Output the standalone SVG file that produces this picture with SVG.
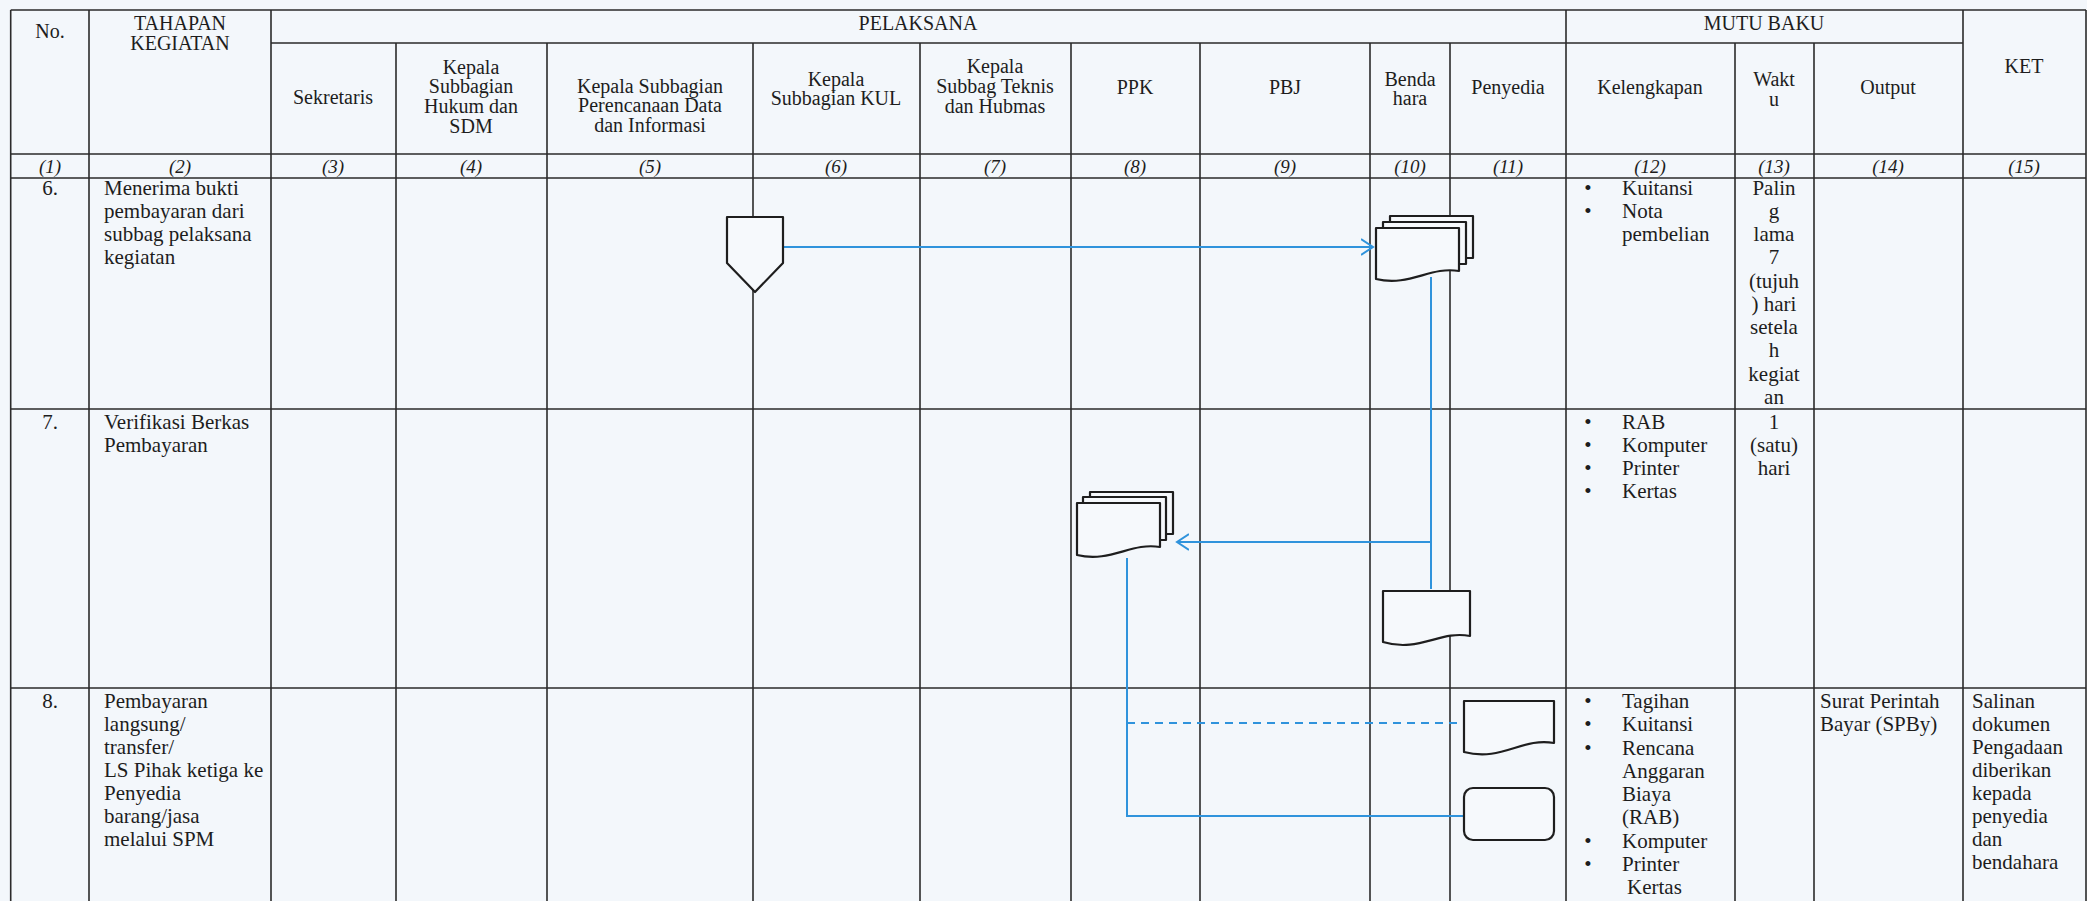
<svg xmlns="http://www.w3.org/2000/svg" width="2087" height="901" viewBox="0 0 2087 901">
<defs>
<style>
.grid{stroke:#2b2b2b;stroke-width:1.6;fill:none}
.shape{stroke:#1e1e1e;stroke-width:2.2;fill:#f6f9fc;stroke-linejoin:round}
.conn{stroke:#2f93dc;stroke-width:2;fill:none}
.dash{stroke-dasharray:8 6}
text{font-family:"Liberation Serif","Times New Roman",serif;fill:#1d1d1d}
.h{font-size:20px;text-anchor:middle}
.n{font-size:19px;font-style:italic;text-anchor:middle}
.b{font-size:21px}
.c{font-size:21px;text-anchor:middle}
</style>
<marker id="arr" markerUnits="userSpaceOnUse" markerWidth="16" markerHeight="20" refX="12" refY="9" orient="auto">
<path d="M0,1 L12,9 L0,17" fill="none" stroke="#2f93dc" stroke-width="2"/>
</marker>
</defs>
<rect x="0" y="0" width="2087" height="901" fill="#f3f7fb"/>

<g id="table-grid" class="grid">
<path d="M10.7,10 H2086 M271,43 H1963 M10.7,154 H2086 M10.7,178 H2086 M10.7,409 H2086 M10.7,688 H2086"/>
<path d="M10.7,10 V901 M89,10 V901 M271,10 V901 M1566,10 V901 M1963,10 V901 M2086,10 V901"/>
<path d="M396,43 V901 M547,43 V901 M753,43 V901 M920,43 V901 M1071,43 V901 M1200,43 V901 M1370,43 V901 M1450,43 V901 M1735,43 V901 M1814,43 V901"/>
</g>

<g id="header">
<text class="h" x="50" y="38">No.</text>
<text class="h" x="180" y="30">TAHAPAN</text>
<text class="h" x="180" y="50">KEGIATAN</text>
<text class="h" x="918" y="30">PELAKSANA</text>
<text class="h" x="1764" y="30">MUTU BAKU</text>
<text class="h" x="2024" y="73">KET</text>
<text class="h" x="333" y="104">Sekretaris</text>
<text class="h" x="471" y="74">Kepala</text>
<text class="h" x="471" y="93">Subbagian</text>
<text class="h" x="471" y="113">Hukum dan</text>
<text class="h" x="471" y="133">SDM</text>
<text class="h" x="650" y="93">Kepala Subbagian</text>
<text class="h" x="650" y="112">Perencanaan Data</text>
<text class="h" x="650" y="132">dan Informasi</text>
<text class="h" x="836" y="86">Kepala</text>
<text class="h" x="836" y="105">Subbagian KUL</text>
<text class="h" x="995" y="73">Kepala</text>
<text class="h" x="995" y="93">Subbag Teknis</text>
<text class="h" x="995" y="113">dan Hubmas</text>
<text class="h" x="1135" y="94">PPK</text>
<text class="h" x="1285" y="94">PBJ</text>
<text class="h" x="1410" y="86">Benda</text>
<text class="h" x="1410" y="105">hara</text>
<text class="h" x="1508" y="94">Penyedia</text>
<text class="h" x="1650" y="94">Kelengkapan</text>
<text class="h" x="1774" y="86">Wakt</text>
<text class="h" x="1774" y="106">u</text>
<text class="h" x="1888" y="94">Output</text>
<text class="n" x="50" y="173">(1)</text>
<text class="n" x="180" y="173">(2)</text>
<text class="n" x="333" y="173">(3)</text>
<text class="n" x="471" y="173">(4)</text>
<text class="n" x="650" y="173">(5)</text>
<text class="n" x="836" y="173">(6)</text>
<text class="n" x="995" y="173">(7)</text>
<text class="n" x="1135" y="173">(8)</text>
<text class="n" x="1285" y="173">(9)</text>
<text class="n" x="1410" y="173">(10)</text>
<text class="n" x="1508" y="173">(11)</text>
<text class="n" x="1650" y="173">(12)</text>
<text class="n" x="1774" y="173">(13)</text>
<text class="n" x="1888" y="173">(14)</text>
<text class="n" x="2024" y="173">(15)</text>
</g>

<g id="row6-text">
<text class="c" x="50" y="195">6.</text>
<text class="b" x="104" y="195">Menerima bukti</text>
<text class="b" x="104" y="218">pembayaran dari</text>
<text class="b" x="104" y="241">subbag pelaksana</text>
<text class="b" x="104" y="264">kegiatan</text>
<text class="c" x="1588" y="195">•</text>
<text class="b" x="1622" y="195">Kuitansi</text>
<text class="c" x="1588" y="218">•</text>
<text class="b" x="1622" y="218">Nota</text>
<text class="b" x="1622" y="241">pembelian</text>
<text class="c" x="1774" y="195">Palin</text>
<text class="c" x="1774" y="218">g</text>
<text class="c" x="1774" y="241">lama</text>
<text class="c" x="1774" y="264">7</text>
<text class="c" x="1774" y="288">(tujuh</text>
<text class="c" x="1774" y="311">) hari</text>
<text class="c" x="1774" y="334">setela</text>
<text class="c" x="1774" y="357">h</text>
<text class="c" x="1774" y="381">kegiat</text>
<text class="c" x="1774" y="404">an</text>
</g>

<g id="row7-text">
<text class="c" x="50" y="429">7.</text>
<text class="b" x="104" y="429">Verifikasi Berkas</text>
<text class="b" x="104" y="452">Pembayaran</text>
<text class="c" x="1588" y="429">•</text>
<text class="b" x="1622" y="429">RAB</text>
<text class="c" x="1588" y="452">•</text>
<text class="b" x="1622" y="452">Komputer</text>
<text class="c" x="1588" y="475">•</text>
<text class="b" x="1622" y="475">Printer</text>
<text class="c" x="1588" y="498">•</text>
<text class="b" x="1622" y="498">Kertas</text>
<text class="c" x="1774" y="429">1</text>
<text class="c" x="1774" y="452">(satu)</text>
<text class="c" x="1774" y="475">hari</text>
</g>

<g id="row8-text">
<text class="c" x="50" y="708">8.</text>
<text class="b" x="104" y="708">Pembayaran</text>
<text class="b" x="104" y="731">langsung/</text>
<text class="b" x="104" y="754">transfer/</text>
<text class="b" x="104" y="777">LS Pihak ketiga ke</text>
<text class="b" x="104" y="800">Penyedia</text>
<text class="b" x="104" y="823">barang/jasa</text>
<text class="b" x="104" y="846">melalui SPM</text>
<text class="c" x="1588" y="708">•</text>
<text class="b" x="1622" y="708">Tagihan</text>
<text class="c" x="1588" y="731">•</text>
<text class="b" x="1622" y="731">Kuitansi</text>
<text class="c" x="1588" y="755">•</text>
<text class="b" x="1622" y="755">Rencana</text>
<text class="b" x="1622" y="778">Anggaran</text>
<text class="b" x="1622" y="801">Biaya</text>
<text class="b" x="1622" y="824">(RAB)</text>
<text class="c" x="1588" y="848">•</text>
<text class="b" x="1622" y="848">Komputer</text>
<text class="c" x="1588" y="871">•</text>
<text class="b" x="1622" y="871">Printer</text>
<text class="b" x="1627" y="894">Kertas</text>
<text class="b" x="1820" y="708">Surat Perintah</text>
<text class="b" x="1820" y="731">Bayar (SPBy)</text>
<text class="b" x="1972" y="708">Salinan</text>
<text class="b" x="1972" y="731">dokumen</text>
<text class="b" x="1972" y="754">Pengadaan</text>
<text class="b" x="1972" y="777">diberikan</text>
<text class="b" x="1972" y="800">kepada</text>
<text class="b" x="1972" y="823">penyedia</text>
<text class="b" x="1972" y="846">dan</text>
<text class="b" x="1972" y="869">bendahara</text>
</g>

<g id="connectors">
<path class="conn" d="M783,247 H1373" marker-end="url(#arr)"/>
<path class="conn" d="M1431,277 V589"/>
<path class="conn" d="M1431,542 H1177" marker-end="url(#arr)"/>
<path class="conn" d="M1127,558 V816 H1464"/>
<path class="conn dash" d="M1127,723 H1464"/>
</g>

<g id="node-offpage-kul">
<path class="shape" d="M727,217 H783 V263 L755,292 L727,263 Z"/>
</g>

<g id="node-multidoc-bendahara">
<rect class="shape" x="1390" y="216" width="83" height="42" stroke-linejoin="miter"/>
<rect class="shape" x="1383" y="222" width="83" height="42" stroke-linejoin="miter"/>
<path class="shape" d="M1376,228 H1459 V271 C1430,266 1410,287 1376,279 Z"/>
</g>

<g id="node-multidoc-ppk">
<rect class="shape" x="1090" y="492" width="83" height="42" stroke-linejoin="miter"/>
<rect class="shape" x="1083" y="497" width="83" height="43" stroke-linejoin="miter"/>
<path class="shape" d="M1077,503 H1160 V547 C1131,542 1111,563 1077,555 Z"/>
</g>

<g id="node-doc-bendahara">
<path class="shape" d="M1383,591 H1470 V636 C1440,630 1419,653 1383,642 Z"/>
</g>

<g id="node-doc-penyedia">
<path class="shape" d="M1464,701 H1554 V743 C1522,737 1502,762 1464,752 Z"/>
</g>

<g id="node-terminal-penyedia">
<rect class="shape" x="1464" y="788" width="90" height="52" rx="9" ry="9"/>
</g>
</svg>
